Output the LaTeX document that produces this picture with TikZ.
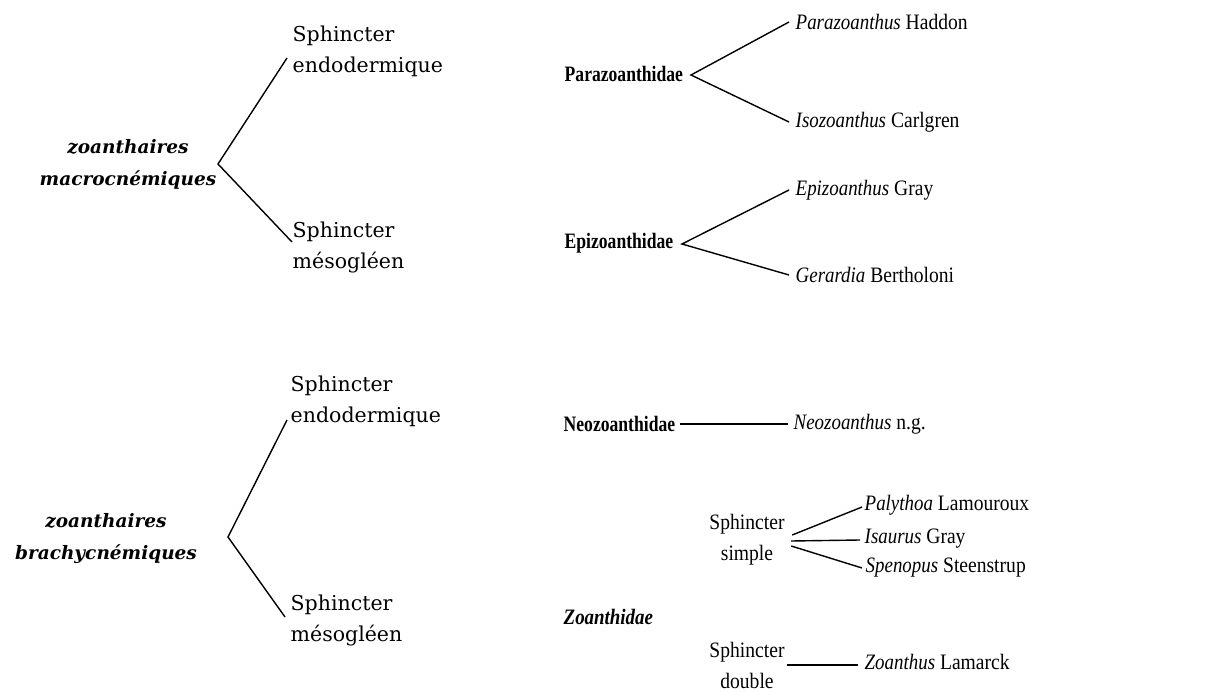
\documentclass[tikz,border=0pt]{standalone}
\usepackage{fontspec}
\setmainfont{Liberation Serif}
\newfontfamily\rf[FakeStretch=0.89,
  ItalicFeatures={FakeStretch=0.86},
  BoldFeatures={FakeStretch=0.80},
  BoldItalicFeatures={FakeStretch=0.86}]{Liberation Serif}
\newfontfamily\lf{DejaVu Serif}
\begin{document}
\begin{tikzpicture}[x=1pt,y=-1pt,line width=1.4pt,
  lft/.style={font=\lf\fontsize{20.5}{31}\selectfont,inner sep=0pt,align=left,anchor=west},
  lfb/.style={font=\lf\bfseries\itshape\fontsize{18.5}{32}\selectfont,inner sep=0pt,align=center},
  rt/.style={font=\rf\fontsize{22}{31}\selectfont,inner sep=0pt,anchor=west},
  rtc/.style={font=\rf\fontsize{22}{31}\selectfont,inner sep=0pt,align=center},
  fam/.style={font=\rf\bfseries\fontsize{22}{31}\selectfont,inner sep=0pt,anchor=west},
  famit/.style={font=\rf\bfseries\itshape\fontsize{22}{31}\selectfont,inner sep=0pt,anchor=west}]
\useasboundingbox (0,0) rectangle (1229,692);
% left upper
\node[lfb] (zm) at (128,164) {zoanthaires\\macrocnémiques};
\node[lft] (se1) at (292,51) {Sphincter\\endodermique};
\node[lft] (sm1) at (292,247) {Sphincter\\mésogléen};
\coordinate (v1) at (218,164);
\draw ([shift={(-5,7)}]se1.west) -- (v1) -- ([shift={(0,-5)}]sm1.west);
% left lower
\node[lfb] (zb) at (106,539) {zoanthaires\\brachycnémiques};
\node[lft] (se2) at (290,401) {Sphincter\\endodermique};
\node[lft] (sm2) at (290,620) {Sphincter\\mésogléen};
\coordinate (v2) at (228,537);
\draw ([shift={(-3,19)}]se2.west) -- (v2) -- ([shift={(-5,-3)}]sm2.west);
% Parazoanthidae
\node[fam] (pz) at (564,74) {Parazoanthidae};
\node[rt] (pa) at (795,22) {{\itshape Parazoanthus} Haddon};
\node[rt] (is) at (795,122) {{\itshape Isozoanthus} Carlgren};
\coordinate (vp) at (691,75);
\draw ([xshift=-6]pa.west) -- (vp) -- ([xshift=-6]is.west);
% Epizoanthidae
\node[fam] (ep) at (564,243) {Epizoanthidae};
\node[rt] (epg) at (795,190) {{\itshape Epizoanthus} Gray};
\node[rt] (ger) at (795,275) {{\itshape Gerardia} Bertholoni};
\coordinate (ve) at (682,244);
\draw ([xshift=-6]epg.west) -- (ve) -- ([xshift=-6]ger.west);
% Neozoanthidae
\node[fam] (nz) at (563,424) {Neozoanthidae};
\node[rt] (nzg) at (793,424) {{\itshape Neozoanthus} n.g.};
\draw ([xshift=4]nz.east) -- ([xshift=-5]nzg.west);
% Zoanthidae
\node[famit] (zo) at (563,617) {Zoanthidae};
\node[rtc] (ss) at (747,540) {Sphincter\\simple};
\node[rt] (pal) at (864,505) {{\itshape Palythoa} Lamouroux};
\node[rt] (isa) at (864,539) {{\itshape Isaurus} Gray};
\node[rt] (spe) at (865,568) {{\itshape Spenopus} Steenstrup};
\draw ([shift={(7,-5)}]ss.east) -- ([shift={(-2,2)}]pal.west);
\draw ([shift={(6,1)}]ss.east) -- ([xshift=-4]isa.west |- ss.east);
\draw ([shift={(6,6)}]ss.east) -- ([xshift=-3]spe.west);
\node[rtc] (sd) at (747,665) {Sphincter\\double};
\node[rt] (zl) at (864,662) {{\itshape Zoanthus} Lamarck};
\coordinate (zle) at ([xshift=-6]zl.west);
\draw ([xshift=2]sd.east) -- (zle |- sd.east);
\end{tikzpicture}
\end{document}
